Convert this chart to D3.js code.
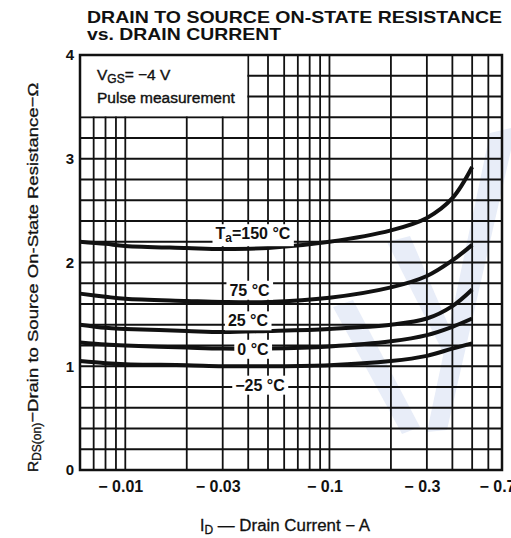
<!DOCTYPE html>
<html>
<head>
<meta charset="utf-8">
<script src="https://cdn.jsdelivr.net/npm/d3@7"></script>
<style>
body { margin: 0; background: #fff; }
text { font-family: "Liberation Sans", Arial, Helvetica, sans-serif; fill: #111; }
</style>
</head>
<body>
<div id="chart"></div>
<script>
var svgWidth = 511, svgHeight = 538;

// drain current magnitude (A)
var current = [0.006, 0.008, 0.01, 0.02, 0.03, 0.05, 0.1, 0.2, 0.3, 0.4, 0.5];
var r150 = [2.20, 2.18, 2.16, 2.14, 2.13, 2.14, 2.20, 2.31, 2.43, 2.62, 2.92];
var r75  = [1.70, 1.67, 1.65, 1.63, 1.62, 1.62, 1.66, 1.76, 1.87, 2.02, 2.17];
var r25  = [1.40, 1.37, 1.36, 1.34, 1.33, 1.34, 1.36, 1.40, 1.46, 1.58, 1.74];
var r0   = [1.23, 1.21, 1.20, 1.18, 1.17, 1.17, 1.19, 1.24, 1.30, 1.38, 1.46];
var rm25 = [1.05, 1.03, 1.02, 1.01, 1.00, 1.00, 1.01, 1.05, 1.10, 1.17, 1.22];

var xTicks = [0.01, 0.03, 0.1, 0.3, 0.7];
var yTicks = [0, 1, 2, 3, 4];
var xGrid = [0.007, 0.008, 0.009, 0.01, 0.02, 0.03, 0.04, 0.05, 0.06, 0.07, 0.08, 0.09,
             0.1, 0.2, 0.3, 0.4, 0.5, 0.6];
var yGrid = [0.2, 0.4, 0.6, 0.8, 1, 1.2, 1.4, 1.6, 1.8, 2, 2.2, 2.4, 2.6, 2.8, 3, 3.2, 3.4, 3.6, 3.8];

// curve labels: text + anchor in data units
var labelText = ["150 °C", "75 °C", "25 °C", "0 °C", "\u221225 °C"];
var labelI = [0.0422, 0.0406, 0.0399, 0.0422, 0.0457];
var labelR = [2.28, 1.735, 1.44, 1.166, 0.82];

var pLeft = 80, pRight = 502, pTop = 55, pBottom = 470;

var svg = d3.select("#chart")
  .append("svg")
  .attr("width", svgWidth)
  .attr("height", svgHeight);

svg.append("rect").attr("width", svgWidth).attr("height", svgHeight).attr("fill", "#fff");

var x = d3.scaleLog().domain([0.006, 0.7]).range([pLeft, pRight]);
var y = d3.scaleLinear().domain([0, 4]).range([pBottom, pTop]);

// faint watermark in the scan
var wm = svg.append("g").attr("fill", "#e8edf8");
wm.append("polygon").attr("points", "333,307 353,300 420,427 402,434");
wm.append("polygon").attr("points", "387,242 410,236 458,347 443,352");
wm.append("polygon").attr("points", "490,133 511,128 511,150 447,430 427,432");

// grid
var grid = svg.append("g").attr("stroke", "#111").attr("stroke-width", 1.8);
grid.selectAll(".vg")
  .data(xGrid)
  .enter()
  .append("line")
  .attr("x1", d => x(d)).attr("x2", d => x(d))
  .attr("y1", pTop).attr("y2", pBottom);
grid.selectAll(".hg")
  .data(yGrid)
  .enter()
  .append("line")
  .attr("x1", pLeft).attr("x2", pRight)
  .attr("y1", d => y(d)).attr("y2", d => y(d));

// condition box (clears the grid at upper left)
svg.append("rect")
  .attr("x", pLeft).attr("y", y(4))
  .attr("width", x(0.04) - pLeft - 1)
  .attr("height", y(3.4) - y(4) - 1)
  .attr("fill", "#fff");

var info = svg.append("g").attr("font-size", 15.5).attr("stroke", "#111").attr("stroke-width", 0.4);
var t1 = info.append("text").attr("x", 97).attr("y", 80);
t1.append("tspan").text("V");
t1.append("tspan").attr("font-size", 12).attr("dy", 3).text("GS");
t1.append("tspan").attr("dy", -3).text("= \u22124 V");
info.append("text").attr("x", 97).attr("y", 103).text("Pulse measurement");

// curves
var series = [r150, r75, r25, r0, rm25];
var line = d3.line()
  .x((d, i) => x(current[i]))
  .y(d => y(d))
  .curve(d3.curveCatmullRom.alpha(0.5));

svg.append("g")
  .selectAll("path")
  .data(series)
  .enter()
  .append("path")
  .attr("d", line)
  .attr("fill", "none")
  .attr("stroke", "#111")
  .attr("stroke-width", 4);

// curve labels with white backing
var labels = svg.append("g").attr("font-size", 16).attr("font-weight", "bold");
labelText.forEach(function(t, i) {
  var g = labels.append("g");
  var txt = g.append("text")
    .attr("x", x(labelI[i]))
    .attr("y", y(labelR[i]))
    .attr("dy", "0.36em")
    .attr("text-anchor", "middle");
  if (i == 0) {
    txt.append("tspan").text("T");
    txt.append("tspan").attr("font-size", 12).attr("dy", 3).text("a");
    txt.append("tspan").attr("dy", -3).text("=" + t);
  } else {
    txt.text(t);
  }
  var bb = txt.node().getBBox();
  g.insert("rect", "text")
    .attr("x", bb.x - 3).attr("y", bb.y - 1)
    .attr("width", bb.width + 6).attr("height", bb.height + 2)
    .attr("fill", "#fff");
});

// frame
svg.append("rect")
  .attr("x", pLeft).attr("y", pTop)
  .attr("width", pRight - pLeft).attr("height", pBottom - pTop)
  .attr("fill", "none").attr("stroke", "#111").attr("stroke-width", 2.5);

// axes (labels only)
var yAxis = svg.append("g")
  .attr("transform", "translate(" + pLeft + ",0)")
  .call(d3.axisLeft(y).tickValues(yTicks).tickSize(0).tickPadding(6).tickFormat(d3.format("d")));
yAxis.select(".domain").remove();
yAxis.selectAll("text").attr("font-size", 15).attr("font-weight", "bold")
  .style("font-family", "'Liberation Sans', Arial, sans-serif").attr("fill", "#111");

var xAxis = svg.append("g")
  .attr("transform", "translate(0," + pBottom + ")")
  .call(d3.axisBottom(x).tickValues(xTicks).tickSize(0).tickPadding(11)
    .tickFormat(d => "\u2212 " + d));
xAxis.select(".domain").remove();
xAxis.selectAll("text").attr("font-size", 16).attr("font-weight", "bold").attr("dx", -5)
  .style("font-family", "'Liberation Sans', Arial, sans-serif").attr("fill", "#111");

// titles
var title = svg.append("g").attr("font-weight", "bold").attr("font-size", 16.5);
title.append("text").attr("x", 87).attr("y", 23)
  .attr("textLength", 415).attr("lengthAdjust", "spacingAndGlyphs")
  .text("DRAIN TO SOURCE ON-STATE RESISTANCE");
title.append("text").attr("x", 87).attr("y", 40)
  .attr("textLength", 194).attr("lengthAdjust", "spacingAndGlyphs")
  .text("vs. DRAIN CURRENT");

var xt = svg.append("text")
  .attr("x", 200).attr("y", 531)
  .attr("font-size", 16).attr("stroke", "#111").attr("stroke-width", 0.3);
xt.append("tspan").text("I");
xt.append("tspan").attr("font-size", 12).attr("dy", 3).text("D");
xt.append("tspan").attr("dy", -3)
  .attr("textLength", 157).attr("lengthAdjust", "spacingAndGlyphs")
  .text(" \u2014 Drain Current \u2212 A");

var yt = svg.append("text")
  .attr("transform", "translate(38,472) rotate(-90)")
  .attr("font-size", 15.5).attr("stroke", "#111").attr("stroke-width", 0.3);
yt.append("tspan").text("R");
yt.append("tspan").attr("font-size", 12).attr("dy", 3).text("DS(on)");
yt.append("tspan").attr("dy", -3)
  .attr("textLength", 340).attr("lengthAdjust", "spacingAndGlyphs")
  .text("\u2212Drain to Source On-State Resistance\u2212\u03a9");
</script>
</body>
</html>
